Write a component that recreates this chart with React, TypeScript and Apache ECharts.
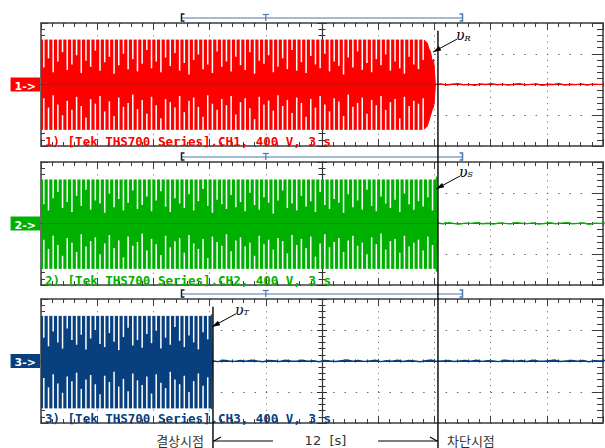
import React, { useEffect, useRef } from 'react';
import * as echarts from 'echarts';

// ---------- scope scales (10 x 4 divisions) ----------
const SEC_PER_DIV = 3;
const VOLT_PER_DIV = 400;
const X_MIN = -15; // seconds from screen centre
const X_MAX = 15;
const Y_MIN = -800; // volts
const Y_MAX = 800;

const channelIds = ['CH1', 'CH2', 'CH3'];
const channelTags = ['1->', '2->', '3->'];
const phaseNames = ['R', 'S', 'T'];
const channelColors = ['#ff0000', '#00b000', '#073f7f'];

// ---------- events (s) ----------
const phaseLossTime = -5.82;
const cutOffTime = 6.19;
const intervalText = '12  [s]';
const phaseLossText = '결상시점';
const cutOffText = '차단시점';

// record-window bracket above each trace (s)
const recordStart = -7.5;
const recordEnd = 7.5;
const triggerTime = -3;

// ---------- signal envelopes (t [s], V) ----------
const ch1EnvT = [-15, 5.45, 5.62, 5.7, 5.8, 5.88, 5.95, 6.0, 6.05];
const ch1EnvHi = [578, 578, 540, 470, 420, 300, 330, 200, 0];
const ch1EnvLo = [-583, -583, -540, -480, -400, -330, -300, -210, 0];

const ch2EnvT = [-15, 6.08, 6.12, 6.16];
const ch2EnvHi = [566, 566, 608, 0];
const ch2EnvLo = [-583, -583, -625, 0];

const ch3EnvT = [-15, -5.92, -5.89, -5.86];
const ch3EnvHi = [576, 576, 600, 0];
const ch3EnvLo = [-605, -605, -620, 0];

// ---------- beat notches of the dense sine (level reached by each gap, V) ----------
const NOTCH_START = -14.85;
const NOTCH_STEP = 0.25;

const ch1NotchTop = [
  220, 340, 160, 300, 420, 190, 260, 380, 150, 310,
  230, 440, 180, 290, 360, 140, 250, 400, 200, 330,
  170, 270, 450, 210, 300, 160, 350, 240, 410, 180,
  280, 130, 320, 390, 200, 260, 150, 430, 230, 300,
  170, 360, 250, 190, 420, 140, 310, 270, 380, 160,
  230, 340, 200, 450, 180, 290, 150, 370, 260, 210,
  400, 170, 300, 240, 130, 350, 220, 430, 190, 280,
  160, 330, 250, 390, 180, 300, 210, 140, 360, 260,
  200, 320,
];
const ch1NotchBot = [
  -180, -300, -140, -260, -400, -210, -330, -160, -280, -430,
  -190, -250, -150, -350, -220, -410, -170, -290, -240, -130,
  -320, -200, -380, -160, -270, -440, -190, -230, -300, -150,
  -360, -210, -170, -290, -420, -140, -250, -330, -190, -270,
  -150, -390, -230, -180, -310, -450, -160, -260, -210, -340,
  -140, -280, -200, -370, -170, -240, -420, -190, -300, -150,
  -260, -350, -180, -220, -410, -130, -290, -240, -170, -380,
  -200, -270, -150, -330, -230, -190, -440, -160, -280, -210,
  -250, -180,
];
const ch2NotchTop = [
  250, 170, 330, 410, 200, 280, 150, 360, 230, 440,
  180, 300, 260, 140, 390, 210, 320, 170, 270, 430,
  190, 240, 350, 160, 300, 420, 220, 150, 330, 260,
  200, 380, 170, 290, 450, 230, 140, 310, 250, 190,
  370, 210, 280, 160, 400, 240, 180, 340, 270, 130,
  300, 430, 200, 260, 170, 360, 220, 290, 150, 410,
  240, 190, 320, 270, 140, 380, 210, 300, 180, 440,
  230, 160, 350, 260, 200, 310, 150, 390, 250, 180,
  290, 220, 340, 170,
];
const ch2NotchBot = [
  -210, -330, -160, -280, -420, -190, -250, -370, -140, -300,
  -230, -180, -400, -260, -150, -320, -220, -440, -170, -290,
  -240, -130, -350, -200, -270, -410, -160, -310, -230, -190,
  -380, -150, -260, -330, -200, -450, -170, -240, -290, -140,
  -360, -220, -180, -300, -250, -420, -160, -270, -210, -340,
  -190, -230, -390, -150, -280, -200, -320, -170, -430, -260,
  -140, -310, -240, -190, -370, -220, -160, -290, -250, -400,
  -180, -270, -130, -340, -230, -200, -380, -160, -300, -250,
  -210, -350, -170, -280,
];
const ch3NotchTop = [
  300, 190, 380, 240, 160, 420, 270, 210, 340, 150,
  290, 400, 220, 180, 360, 250, 140, 310, 430, 200,
  270, 170, 350, 230, 390, 160, 300, 210, 440, 260,
  180, 330, 240, 150, 370, 280,
];
const ch3NotchBot = [
  -220, -340, -170, -290, -410, -200, -260, -150, -360, -240,
  -180, -300, -430, -190, -270, -140, -330, -230, -390, -160,
  -250, -310, -200, -420, -170, -280, -350, -140, -240, -300,
  -190, -400, -260, -160, -320, -210,
];

// ---------- residual traces after the signal stops (V) ----------
const FLAT_STEP = 0.3;
const ch1Flat = [0, 8, -6, 4, 10, -4, 2, -9, 6, 0, 12, -3, 5, -8, 3, 9, -5, 1, 7, -10, 4, 0, 11, -6, 3, -2, 8, -7, 5, 2, 0];
const ch2Flat = [6, -4, 9, 0, -7, 5, 2, 10, -3, 4, -8, 7, 1, -5, 11, 3, -2, 8, -6, 0, 9, -4, 5, 12, -3, 2, 7, -9, 4, 1, 6];
const ch3Flat = [
  4, -8, 10, 2, -5, 7, -3, 12, 0, -9, 6, 3, -6, 9, 1, -4, 11, -2, 5, -10,
  8, 0, -7, 4, 13, -3, 6, -5, 2, 9, -8, 3, -1, 10, -6, 7, 0, -9, 5, 12,
  -4, 2, 8, -7, 1, 6, -3, 11, -5, 4, 0, -8, 9, 3, -2, 7, -6, 10, 1, -4,
  5, 12, -7, 2, 8, -3, 6, -9, 4, 0, 7,
];

// arrow tips of the phase-voltage annotations (t [s], V)
const arrowTipT = [5.93, 6.09, -5.87];
const arrowTipV = [422, 449, 442];
const markerStartV = 700;

const channels = [
  { envT: ch1EnvT, envHi: ch1EnvHi, envLo: ch1EnvLo, top: ch1NotchTop, bot: ch1NotchBot, flat: ch1Flat },
  { envT: ch2EnvT, envHi: ch2EnvHi, envLo: ch2EnvLo, top: ch2NotchTop, bot: ch2NotchBot, flat: ch2Flat },
  { envT: ch3EnvT, envHi: ch3EnvHi, envLo: ch3EnvLo, top: ch3NotchTop, bot: ch3NotchBot, flat: ch3Flat },
];

// ---------- layout ----------
const W = 605;
const H = 448;
const GRID_LEFT = 41;
const GRID_WIDTH = 562;
const GRID_TOPS = [23, 162, 299];
const GRID_HEIGHTS = [123, 123, 124];
const EDGE = '#3c3c3c';
const CENTER = '#333333';
const DOTS = '#666666';
const BRACKET = '#4a78b0';

function buildOption(): any {
  const grid = GRID_TOPS.map((top, p) => ({ left: GRID_LEFT, top, width: GRID_WIDTH, height: GRID_HEIGHTS[p] }));
  const xAxis: any[] = [];
  const yAxis: any[] = [];
  channels.forEach((_, p) => {
    const xb = { type: 'value', gridIndex: p, min: X_MIN, max: X_MAX, interval: SEC_PER_DIV, axisLabel: { show: false }, splitLine: { show: false } };
    const yb = { type: 'value', gridIndex: p, min: Y_MIN, max: Y_MAX, interval: VOLT_PER_DIV, axisLabel: { show: false }, splitLine: { show: false } };
    const edgeLine = { onZero: false, lineStyle: { color: EDGE, width: 1.5 } };
    const cLine = { onZero: true, lineStyle: { color: CENTER, width: 1.1 } };
    // x: bottom edge, top edge, centre (up), centre (down)
    xAxis.push({
      ...xb, position: 'bottom', axisLine: edgeLine,
      axisTick: { inside: true, length: 7, lineStyle: { color: EDGE } },
      minorTick: { show: true, splitNumber: 5, length: 4, lineStyle: { color: EDGE } },
      splitLine: { show: true, lineStyle: { color: DOTS, width: 1, type: [1, 5.15] } },
    });
    xAxis.push({
      ...xb, position: 'top', axisLine: edgeLine,
      axisTick: { inside: true, length: 7, lineStyle: { color: EDGE } },
      minorTick: { show: true, splitNumber: 5, length: 4, lineStyle: { color: EDGE } },
    });
    xAxis.push({
      ...xb, position: 'bottom', axisLine: cLine,
      axisTick: { inside: true, length: 2, lineStyle: { color: CENTER } },
      minorTick: { show: true, splitNumber: 5, length: 1.5, lineStyle: { color: CENTER } },
    });
    xAxis.push({
      ...xb, position: 'bottom', axisLine: cLine,
      axisTick: { inside: false, length: 2, lineStyle: { color: CENTER } },
      minorTick: { show: true, splitNumber: 5, length: 1.5, lineStyle: { color: CENTER } },
    });
    // y: left edge, right edge, centre (right), centre (left)
    yAxis.push({
      ...yb, position: 'left', axisLine: edgeLine,
      axisTick: { inside: true, length: 7, lineStyle: { color: EDGE } },
      minorTick: { show: true, splitNumber: 5, length: 4, lineStyle: { color: EDGE } },
      splitLine: { show: true, lineStyle: { color: DOTS, width: 1, type: [1.5, 9.74] } },
      axisLabel: {
        show: true, margin: 1,
        formatter: (v: number) => (v === 0 ? `{b|${channelTags[p]}}` : ''),
        rich: {
          b: {
            backgroundColor: channelColors[p], color: '#ffffff', fontWeight: 'bold', fontSize: 11,
            fontFamily: 'DejaVu Sans', lineHeight: 11, padding: [3, 4, 0, 4],
          },
        },
      },
    });
    yAxis.push({
      ...yb, position: 'right', axisLine: edgeLine,
      axisTick: { inside: true, length: 11, lineStyle: { color: EDGE } },
      minorTick: { show: true, splitNumber: 5, length: 6, lineStyle: { color: EDGE } },
    });
    yAxis.push({
      ...yb, position: 'left', axisLine: cLine,
      axisTick: { inside: true, length: 5, lineStyle: { color: CENTER } },
      minorTick: { show: true, splitNumber: 5, length: 3.5, lineStyle: { color: CENTER } },
    });
    yAxis.push({
      ...yb, position: 'left', axisLine: cLine,
      axisTick: { inside: false, length: 5, lineStyle: { color: CENTER } },
      minorTick: { show: true, splitNumber: 5, length: 3.5, lineStyle: { color: CENTER } },
    });
  });

  const series: any[] = [];
  channels.forEach((c, p) => {
    const color = channelColors[p];
    const idx = { xAxisIndex: 4 * p, yAxisIndex: 4 * p };
    const area = {
      type: 'line', ...idx, showSymbol: false, symbol: 'none', silent: true,
      lineStyle: { color, width: 1 }, itemStyle: { color }, areaStyle: { color, opacity: 1 }, z: 2,
    };
    series.push({ ...area, data: c.envT.map((t, i) => [t, c.envHi[i]]) });
    series.push({ ...area, data: c.envT.map((t, i) => [t, c.envLo[i]]) });
    const hiClear = c.envHi[0] + 15;
    const loClear = c.envLo[0] - 15;
    series.push({
      type: 'custom', ...idx, silent: true, z: 3,
      data: c.top.map((v, i) => [NOTCH_START + i * NOTCH_STEP, v, c.bot[i]]),
      renderItem: (_params: any, api: any) => {
        const t = api.value(0);
        const a = api.coord([t, hiClear]);
        const b = api.coord([t, api.value(1)]);
        const d1 = api.coord([t, loClear]);
        const d2 = api.coord([t, api.value(2)]);
        return {
          type: 'group',
          children: [
            { type: 'line', shape: { x1: a[0], y1: a[1], x2: b[0], y2: b[1] }, style: { stroke: '#ffffff', lineWidth: 1.5 } },
            { type: 'line', shape: { x1: d1[0], y1: d1[1], x2: d2[0], y2: d2[1] }, style: { stroke: '#ffffff', lineWidth: 1.5 } },
          ],
        };
      },
    });
    const t0 = c.envT[c.envT.length - 1];
    series.push({
      type: 'line', ...idx, showSymbol: false, symbol: 'none', silent: true, z: 2,
      lineStyle: { color, width: 1.4 }, itemStyle: { color },
      data: c.flat.map((v, i) => [t0 + i * FLAT_STEP, v]),
    });
  });

  return {
    animation: false,
    backgroundColor: '#ffffff',
    textStyle: { fontFamily: 'DejaVu Sans' },
    grid, xAxis, yAxis, series,
  };
}

function buildGraphic(chart: any): any[] {
  const P = (p: number, t: number, v: number) =>
    chart.convertToPixel({ xAxisIndex: 4 * p, yAxisIndex: 4 * p }, [t, v]) as number[];
  const g: any[] = [];
  const Z = 100;
  channels.forEach((_, p) => {
    const color = channelColors[p];
    // record bracket
    const [xs, yTop] = P(p, recordStart, Y_MAX);
    const xe = P(p, recordEnd, 0)[0];
    const xt = P(p, triggerTime, 0)[0];
    const y = yTop - 5;
    g.push({ type: 'line', z: Z, shape: { x1: xs, y1: y, x2: xe, y2: y }, style: { stroke: BRACKET, lineWidth: 1.2 } });
    g.push({ type: 'polyline', z: Z, shape: { points: [[xs + 3, y - 4], [xs, y - 4], [xs, y + 3], [xs + 3, y + 3]] }, style: { stroke: '#1c1c1c', lineWidth: 1.5, fill: null } });
    g.push({ type: 'polyline', z: Z, shape: { points: [[xe - 3, y - 4], [xe, y - 4], [xe, y + 3], [xe - 3, y + 3]] }, style: { stroke: BRACKET, lineWidth: 1.5, fill: null } });
    g.push({ type: 'line', z: Z, shape: { x1: xt - 3, y1: y - 3.5, x2: xt + 3, y2: y - 3.5 }, style: { stroke: BRACKET, lineWidth: 1.2 } });
    g.push({ type: 'line', z: Z, shape: { x1: xt, y1: y - 3.5, x2: xt, y2: y + 3 }, style: { stroke: BRACKET, lineWidth: 1.2 } });
    // scope caption
    const [xl, yb] = P(p, X_MIN, Y_MIN);
    g.push({
      type: 'text', z: 50, x: xl + 4, y: yb - 4.5,
      style: {
        text: `${p + 1}) [Tek THS700 Series].${channelIds[p]}, ${VOLT_PER_DIV} V, ${SEC_PER_DIV} s`,
        fill: color, font: 'bold 12.5px "DejaVu Sans Mono"', align: 'left', verticalAlign: 'middle',
      },
    });
    // phase voltage arrow
    const tip = P(p, arrowTipT[p], arrowTipV[p]);
    const tail = [tip[0] + 24, tip[1] - 13];
    const dx = tip[0] - tail[0];
    const dy = tip[1] - tail[1];
    const L = Math.hypot(dx, dy);
    const ux = dx / L, uy = dy / L;
    const nx = -uy, ny = ux;
    g.push({ type: 'line', z: Z, shape: { x1: tail[0], y1: tail[1], x2: tip[0], y2: tip[1] }, style: { stroke: '#000', lineWidth: 1 } });
    g.push({
      type: 'polygon', z: Z,
      shape: { points: [[tip[0], tip[1]], [tip[0] - ux * 8 + nx * 2.5, tip[1] - uy * 8 + ny * 2.5], [tip[0] - ux * 8 - nx * 2.5, tip[1] - uy * 8 - ny * 2.5]] },
      style: { fill: '#000' },
    });
    g.push({
      type: 'text', z: Z, x: tail[0] - 1, y: tail[1] + 3,
      style: {
        text: `{v|υ}{s|${phaseNames[p]}}`, align: 'left', verticalAlign: 'bottom',
        rich: {
          v: { fontFamily: 'DejaVu Serif', fontStyle: 'italic', fontSize: 14, fill: '#000' },
          s: { fontFamily: 'DejaVu Serif', fontStyle: 'italic', fontSize: 8, fill: '#000', verticalAlign: 'bottom' },
        },
      },
    });
  });

  // event markers
  const cut = P(0, cutOffTime, markerStartV);
  const loss = P(2, phaseLossTime, markerStartV);
  g.push({ type: 'line', z: Z, shape: { x1: cut[0], y1: cut[1], x2: cut[0], y2: H }, style: { stroke: '#000', lineWidth: 1.4 } });
  g.push({ type: 'line', z: Z, shape: { x1: loss[0], y1: loss[1], x2: loss[0], y2: H }, style: { stroke: '#000', lineWidth: 1.4 } });

  const ya = 441;
  const annFont = '13px "Noto Sans CJK KR"';
  g.push({ type: 'text', z: Z, x: loss[0] - 9, y: 447, style: { text: phaseLossText, font: annFont, fill: '#333', align: 'right', verticalAlign: 'bottom', lineHeight: 14 } });
  g.push({ type: 'text', z: Z, x: cut[0] + 9, y: 447, style: { text: cutOffText, font: annFont, fill: '#333', align: 'left', verticalAlign: 'bottom', lineHeight: 14 } });
  g.push({ type: 'text', z: Z, x: (loss[0] + cut[0]) / 2, y: 447, style: { text: intervalText, font: '13px "DejaVu Sans"', fill: '#333', align: 'center', verticalAlign: 'bottom', lineHeight: 14 } });
  g.push({ type: 'line', z: Z, shape: { x1: loss[0], y1: ya, x2: loss[0] + 60, y2: ya }, style: { stroke: '#000', lineWidth: 1.2 } });
  g.push({ type: 'polyline', z: Z, shape: { points: [[loss[0] + 8, ya - 4], [loss[0] + 1, ya]] }, style: { stroke: '#000', lineWidth: 1.2, fill: null } });
  g.push({ type: 'line', z: Z, shape: { x1: cut[0] - 60, y1: ya, x2: cut[0], y2: ya }, style: { stroke: '#000', lineWidth: 1.2 } });
  g.push({ type: 'polyline', z: Z, shape: { points: [[cut[0] - 8, ya - 4], [cut[0] - 1, ya]] }, style: { stroke: '#000', lineWidth: 1.2, fill: null } });
  return g;
}

export default function App() {
  const ref = useRef<HTMLDivElement>(null);
  useEffect(() => {
    if (!ref.current) return;
    const chart = echarts.init(ref.current, undefined, { renderer: 'svg' });
    chart.setOption(buildOption());
    chart.setOption({ graphic: buildGraphic(chart) });
    return () => chart.dispose();
  }, []);
  return (
    <div
      ref={ref}
      style={{ position: 'fixed', left: 0, top: 0, width: W, height: H, background: '#fff' }}
    />
  );
}
